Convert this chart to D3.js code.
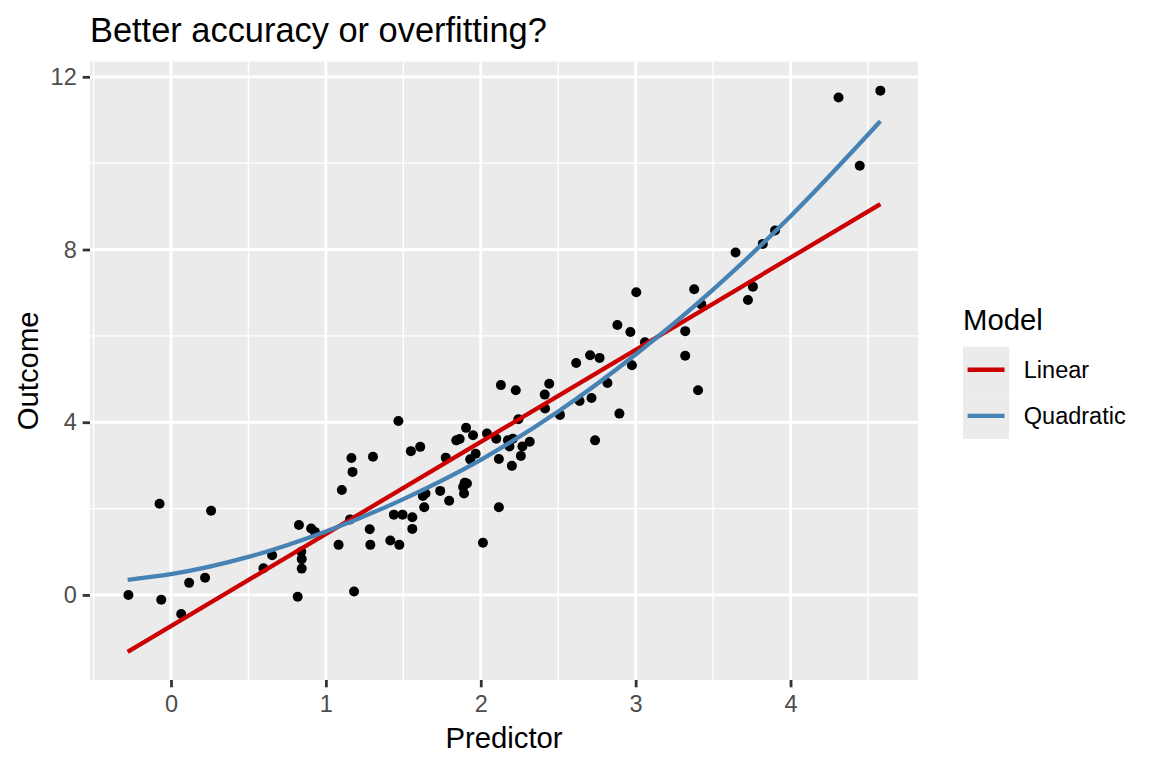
<!DOCTYPE html>
<html>
<head>
<meta charset="utf-8">
<script src="https://cdn.jsdelivr.net/npm/d3@7"></script>
<style>
  body { margin: 0; background: #fff; }
  svg { display: block; font-family: "Liberation Sans", Arial, sans-serif; }
</style>
</head>
<body>
<div id="chart"></div>
<script>
// Observed points (Predictor, Outcome)
const predictor = [
  -0.275, -0.074, -0.063, 0.066, 0.117, 0.220, 0.259, 0.597, 0.653, 0.826,
  0.818, 0.841, 0.844, 0.844, 0.905, 0.929, 1.082, 1.103, 1.468, 1.165,
  1.304, 1.172, 1.549, 1.609, 1.905, 1.950, 1.842, 1.864, 2.040, 1.774,
  1.932, 1.967, 1.896, 1.911, 1.886, 1.892, 1.738, 1.796, 1.626, 1.643,
  1.635, 1.439, 1.495, 1.558, 1.558, 1.283, 1.156, 1.287, 1.416, 1.474,
  1.182, 2.014, 2.117, 2.117, 2.100, 2.706, 2.767, 2.616, 2.976, 2.818,
  2.442, 2.130, 2.226, 2.413, 2.715, 2.638, 2.415, 2.511, 2.895, 2.243,
  2.738, 2.269, 2.316, 2.259, 2.201, 2.175, 2.185, 2.207, 3.900, 3.821,
  3.645, 3.757, 3.725, 3.378, 3.424, 3.004, 2.882, 2.966, 3.060, 3.320,
  3.320, 3.403, 4.310, 4.580, 4.447
];
const outcome = [
  0.00, 2.11, -0.11, -0.44, 0.28, 0.40, 1.95, 0.62, 0.92, 1.62,
  -0.04, 1.00, 0.83, 0.61, 1.54, 1.46, 1.16, 2.43, 4.03, 3.17,
  3.20, 2.85, 3.33, 3.43, 3.87, 3.70, 3.58, 3.61, 3.74, 3.18,
  3.14, 3.27, 2.60, 2.58, 2.50, 2.35, 2.41, 2.18, 2.29, 2.35,
  2.03, 1.86, 1.86, 1.80, 1.53, 1.52, 1.75, 1.16, 1.26, 1.16,
  0.08, 1.21, 2.03, 3.15, 3.62, 5.55, 5.49, 5.37, 5.32, 4.91,
  4.89, 4.86, 4.74, 4.64, 4.56, 4.49, 4.32, 4.17, 4.20, 4.07,
  3.58, 3.44, 3.55, 3.22, 2.99, 3.58, 3.44, 3.62, 8.44, 8.13,
  7.93, 7.14, 6.83, 7.08, 6.73, 7.01, 6.25, 6.09, 5.85, 6.11,
  5.54, 4.74, 11.52, 11.68, 9.94
];

// Fitted lines
const linearX = [-0.28, 4.58];
const linearY = [-1.32, 9.05];
const quadX = [-0.28, 0, 0.5, 1, 1.5, 2, 2.5, 3, 3.5, 4, 4.58];
const quadY = [0.35, 0.48, 0.88, 1.47, 2.22, 3.13, 4.25, 5.57, 7.07, 8.77, 10.97];

const models = ['Linear', 'Quadratic'];
const modelColors = ['#CC0000', '#4682B4'];

const xTicks = [0, 1, 2, 3, 4];
const xMinor = [-0.5, 0.5, 1.5, 2.5, 3.5, 4.5];
const yTicks = [0, 4, 8, 12];
const yMinor = [2, 6, 10];

const W = 1152, H = 768;
const panel = { left: 90, top: 61.7, right: 918, bottom: 680 };

const svg = d3.select('#chart')
  .append('svg')
  .attr('width', W)
  .attr('height', H);

svg.append('rect').attr('width', W).attr('height', H).attr('fill', '#fff');

const x = d3.scaleLinear().domain([-0.523, 4.823]).range([panel.left, panel.right]);
const y = d3.scaleLinear().domain([-1.97, 12.35]).range([panel.bottom, panel.top]);

// Panel background
svg.append('rect')
  .attr('x', panel.left)
  .attr('y', panel.top)
  .attr('width', panel.right - panel.left)
  .attr('height', panel.bottom - panel.top)
  .attr('fill', '#EBEBEB');

const grid = svg.append('g');

// Minor grid
grid.selectAll('.xminor').data(xMinor).enter().append('line')
  .attr('x1', d => x(d)).attr('x2', d => x(d))
  .attr('y1', panel.top).attr('y2', panel.bottom)
  .attr('stroke', '#fff').attr('stroke-width', 1.4);
grid.selectAll('.yminor').data(yMinor).enter().append('line')
  .attr('y1', d => y(d)).attr('y2', d => y(d))
  .attr('x1', panel.left).attr('x2', panel.right)
  .attr('stroke', '#fff').attr('stroke-width', 1.4);

// Major grid
grid.selectAll('.xmajor').data(xTicks).enter().append('line')
  .attr('x1', d => x(d)).attr('x2', d => x(d))
  .attr('y1', panel.top).attr('y2', panel.bottom)
  .attr('stroke', '#fff').attr('stroke-width', 2.8);
grid.selectAll('.ymajor').data(yTicks).enter().append('line')
  .attr('y1', d => y(d)).attr('y2', d => y(d))
  .attr('x1', panel.left).attr('x2', panel.right)
  .attr('stroke', '#fff').attr('stroke-width', 2.8);

// Points
const points = predictor.map((p, i) => ({ x: p, y: outcome[i] }));
svg.append('g')
  .selectAll('circle')
  .data(points)
  .enter()
  .append('circle')
  .attr('cx', d => x(d.x))
  .attr('cy', d => y(d.y))
  .attr('r', 5)
  .attr('fill', '#000');

// Model lines
const line = d3.line().x(d => x(d[0])).y(d => y(d[1]));
svg.append('path')
  .datum(linearX.map((v, i) => [v, linearY[i]]))
  .attr('fill', 'none')
  .attr('stroke', modelColors[0])
  .attr('stroke-width', 4.3)
  .attr('d', line);
svg.append('path')
  .datum(quadX.map((v, i) => [v, quadY[i]]))
  .attr('fill', 'none')
  .attr('stroke', modelColors[1])
  .attr('stroke-width', 4.3)
  .attr('d', line.curve(d3.curveMonotoneX));

// Axes
const xAxis = svg.append('g')
  .attr('transform', `translate(0,${panel.bottom})`)
  .call(d3.axisBottom(x).tickValues(xTicks).tickSize(7.3).tickPadding(8).tickFormat(d3.format('d')));
const yAxis = svg.append('g')
  .attr('transform', `translate(${panel.left},0)`)
  .call(d3.axisLeft(y).tickValues(yTicks).tickSize(7.3).tickPadding(6).tickFormat(d3.format('d')));

[xAxis, yAxis].forEach(a => {
  a.select('.domain').remove();
  a.selectAll('.tick line').attr('stroke', '#333333').attr('stroke-width', 2.8);
  a.selectAll('.tick text')
    .attr('fill', '#4D4D4D')
    .style('font-size', '23.5px')
    .style('font-family', '"Liberation Sans", Arial, sans-serif');
});

// Titles
svg.append('text')
  .attr('x', panel.left)
  .attr('y', 41.7)
  .style('font-size', '34.4px')
  .attr('fill', '#000')
  .text('Better accuracy or overfitting?');

svg.append('text')
  .attr('x', (panel.left + panel.right) / 2)
  .attr('y', 748)
  .attr('text-anchor', 'middle')
  .style('font-size', '29.3px')
  .attr('fill', '#000')
  .text('Predictor');

svg.append('text')
  .attr('transform', `translate(38,${(panel.top + panel.bottom) / 2}) rotate(-90)`)
  .attr('text-anchor', 'middle')
  .style('font-size', '29.3px')
  .attr('fill', '#000')
  .text('Outcome');

// Legend
const legend = svg.append('g').attr('transform', 'translate(963,0)');
legend.append('text')
  .attr('x', 0)
  .attr('y', 330)
  .style('font-size', '29.3px')
  .attr('fill', '#000')
  .text('Model');

const keySize = 46.1, keyTop = 346.7;
const keys = legend.selectAll('.key')
  .data(models)
  .enter()
  .append('g')
  .attr('transform', (d, i) => `translate(0,${keyTop + i * keySize})`);
keys.append('rect')
  .attr('width', keySize)
  .attr('height', keySize)
  .attr('fill', '#EBEBEB');
keys.append('line')
  .attr('x1', 4.6).attr('x2', keySize - 4.6)
  .attr('y1', keySize / 2).attr('y2', keySize / 2)
  .attr('stroke', (d, i) => modelColors[i])
  .attr('stroke-width', 4.3);
keys.append('text')
  .attr('x', keySize + 14.7)
  .attr('y', keySize / 2 + 8.4)
  .style('font-size', '23.5px')
  .attr('fill', '#000')
  .text(d => d);
</script>
</body>
</html>
